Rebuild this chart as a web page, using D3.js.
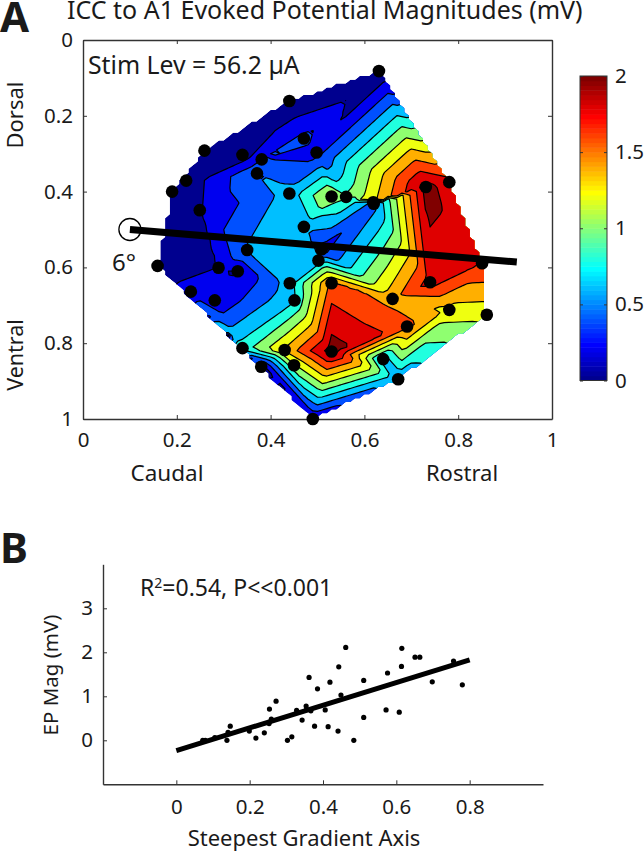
<!DOCTYPE html>
<html>
<head>
<meta charset="utf-8">
<script src="https://cdn.jsdelivr.net/npm/d3@7"></script>
<style>
  html, body { margin: 0; padding: 0; background: #fff; }
  svg { display: block; }
  text { font-family: "Noto Sans", sans-serif; fill: #1a1a1a; }
  .domain, .tick line { stroke: #333; }
</style>
</head>
<body>
<div id="chart"></div>
<script>
// Recording sites, panel A (normalised position and EP magnitude in mV)
const siteX = [.440,.259,.340,.381,.471,.498,.371,.220,.190,.440,.249,.471,.631,.781,.731,.530,.561,.620,.619,.159,.350,.289,.330,.230,.281,.509,.502,.441,.451,.340,.380,.430,.450,.490,.851,.530,.740,.660,.781,.861,.691,.530,.640,.672];
const siteY = [.161,.292,.303,.315,.260,.297,.352,.371,.400,.405,.449,.493,.082,.375,.388,.413,.414,.432,.428,.596,.554,.601,.610,.664,.687,.552,.582,.642,.687,.813,.862,.818,.858,1.00,.589,.642,.639,.683,.712,.725,.756,.822,.842,.895];
const siteMag = [0,0,.05,.40,.46,.32,.60,.06,0,.68,.18,.67,0,1.89,2.09,1.25,1.03,.52,1.36,0,.62,.205,.195,.32,.21,.31,.69,.70,.78,.89,.08,1.43,1.17,.21,1.80,1.67,1.89,1.53,1.33,1.26,1.68,2.11,.69,.64];

// Panel B scatter
const scatterX = [.072,.079,.105,.138,.141,.147,.199,.217,.24,.253,.259,.254,.272,.303,.315,.328,.343,.354,.355,.367,.362,.377,.385,.406,.414,.419,.441,.443,.449,.462,.484,.511,.511,.572,.576,.608,.614,.615,.651,.664,.698,.756,.78];
const scatterY = [0,0,.06,0,.18,.32,.21,.05,.17,.38,.48,.71,.89,0,.08,.68,.46,.78,.70,.67,1.43,.32,1.17,.69,.31,1.32,.21,1.67,1.03,2.11,0,1.36,.52,.69,1.53,.64,1.68,2.09,1.89,1.89,1.33,1.80,1.26];
const fitX = [0, .8];
const fitY = [-.235, 1.83];

// Steepest gradient axis drawn on panel A
const gradX = [.1, .925];
const gradY = [.5, .586];

const levels = [.2, .4, .6, .8, 1, 1.2, 1.4, 1.6, 1.8, 2];
const barTicks = [0, .5, 1, 1.5, 2];
const axisTicksA = [0, .2, .4, .6, .8, 1];
const axisTicksBx = [0, .2, .4, .6, .8];
const axisTicksBy = [0, 1, 2, 3];

const WIDTH = 644;
const HEIGHT = 852;
const GRID_N = 101;
const GRID_STEP = 0.01;
const TICK_FONT = 20.5;

const svg = d3.select("#chart").append("svg").attr("width", WIDTH).attr("height", HEIGHT);

const xA = d3.scaleLinear().domain([0, 1]).range([83, 552]);
const yA = d3.scaleLinear().domain([0, 1]).range([40, 419]);
const xB = d3.scaleLinear().domain([-.2, 1]).range([103, 543]);
const yB = d3.scaleLinear().domain([-1, 4]).range([784.3, 564.3]);

// MATLAB style jet, 64 entries
const jetScale = d3.scaleLinear()
    .domain([1, 8, 24, 40, 56, 64])
    .range(["#00008f", "#0000ff", "#00ffff", "#ffff00", "#ff0000", "#800000"]);
const jet = v => jetScale(Math.min(64, Math.floor(v / 2 * 64) + 1));

drawContours();
drawAxesA();
drawColorbar();
drawPanelB();

/**
 * Linear interpolation of the sites on a regular grid, like griddata
 */
function griddata() {
    const points = siteX.map((x, i) => [x, siteY[i]]);
    const delaunay = d3.Delaunay.from(points);
    const tri = delaunay.triangles;
    const grid = new Array(GRID_N * GRID_N).fill(NaN);

    for (let t = 0; t < tri.length; t += 3) {
        const [ia, ib, ic] = [tri[t], tri[t + 1], tri[t + 2]];
        const [ax, ay] = points[ia], [bx, by] = points[ib], [cx, cy] = points[ic];
        const det = (by - cy) * (ax - cx) + (cx - bx) * (ay - cy);
        if (det === 0) continue;
        const x0 = Math.floor(Math.min(ax, bx, cx) / GRID_STEP), x1 = Math.ceil(Math.max(ax, bx, cx) / GRID_STEP);
        const y0 = Math.floor(Math.min(ay, by, cy) / GRID_STEP), y1 = Math.ceil(Math.max(ay, by, cy) / GRID_STEP);
        for (let j = y0; j <= y1 && j < GRID_N; j++) {
            for (let i = x0; i <= x1 && i < GRID_N; i++) {
                const px = i * GRID_STEP, py = j * GRID_STEP;
                const l1 = ((by - cy) * (px - cx) + (cx - bx) * (py - cy)) / det;
                const l2 = ((cy - ay) * (px - cx) + (ax - cx) * (py - cy)) / det;
                const l3 = 1 - l1 - l2;
                if (l1 >= -1e-9 && l2 >= -1e-9 && l3 >= -1e-9) {
                    grid[j * GRID_N + i] = l1 * siteMag[ia] + l2 * siteMag[ib] + l3 * siteMag[ic];
                }
            }
        }
    }
    return grid;
}

/**
 * Filled contours of panel A
 */
function drawContours() {
    const grid = griddata();
    const inside = grid.map(v => isNaN(v) ? -1 : 1);

    // Spread values a few cells past the hull so the levels run up to the clip edge
    const wide = grid.slice();
    for (let pass = 0; pass < 3; pass++) {
        const prev = wide.slice();
        for (let j = 0; j < GRID_N; j++) {
            for (let i = 0; i < GRID_N; i++) {
                if (!isNaN(prev[j * GRID_N + i])) continue;
                const near = [];
                if (i > 0) near.push(prev[j * GRID_N + i - 1]);
                if (i < GRID_N - 1) near.push(prev[j * GRID_N + i + 1]);
                if (j > 0) near.push(prev[(j - 1) * GRID_N + i]);
                if (j < GRID_N - 1) near.push(prev[(j + 1) * GRID_N + i]);
                const m = d3.mean(near);
                if (m !== undefined) wide[j * GRID_N + i] = m;
            }
        }
    }
    const filled = wide.map(v => isNaN(v) ? -1 : v);

    const toScreen = d3.geoTransform({
        point(x, y) {
            this.stream.point(xA((x - .5) * GRID_STEP), yA((y - .5) * GRID_STEP));
        }
    });
    const path = d3.geoPath(toScreen);

    const hull = d3.contours().size([GRID_N, GRID_N]).smooth(false).contour(inside, 0);
    svg.append("clipPath").attr("id", "hull-clip").append("path").attr("d", path(hull));

    const g = svg.append("g").attr("clip-path", "url(#hull-clip)");
    g.append("path").attr("d", path(hull)).attr("fill", jet(0));

    const contours = d3.contours().size([GRID_N, GRID_N]).thresholds(levels)(filled);
    g.selectAll(".level")
        .data(contours)
        .enter()
        .append("path")
        .attr("class", "level")
        .attr("d", path)
        .attr("fill", d => jet(d.value))
        .attr("stroke", "#000")
        .attr("stroke-width", 1.2)
        .attr("stroke-linejoin", "round");
}

function styleAxis(sel) {
    sel.selectAll(".domain").attr("stroke-width", 1.4);
    sel.selectAll(".tick line").attr("stroke-width", 1);
    sel.selectAll("text").attr("font-size", TICK_FONT).attr("font-family", null).attr("fill", null);
}

function drawAxesA() {
    const tick = d => (d === 0 || d === 1) ? d3.format("d")(d) : d3.format(".1f")(d);

    const mk = (axis, tx, ty) => svg.append("g")
        .attr("transform", `translate(${tx},${ty})`)
        .call(axis)
        .call(styleAxis);

    mk(d3.axisBottom(xA).tickValues(axisTicksA).tickFormat(tick).tickSizeOuter(0).tickSizeInner(-4).tickPadding(13), 0, 419);
    mk(d3.axisLeft(yA).tickValues(axisTicksA).tickFormat(tick).tickSizeOuter(0).tickSizeInner(-4).tickPadding(10), 83, 0);
    mk(d3.axisTop(xA).tickValues(axisTicksA).tickFormat("").tickSizeOuter(0).tickSizeInner(-4), 0, 40);
    mk(d3.axisRight(yA).tickValues(axisTicksA).tickFormat("").tickSizeOuter(0).tickSizeInner(-4), 552, 0);

    // Sites and gradient axis
    svg.append("g").selectAll("circle")
        .data(siteX)
        .enter()
        .append("circle")
        .attr("cx", d => xA(d))
        .attr("cy", (d, i) => yA(siteY[i]))
        .attr("r", 6.3)
        .attr("fill", "#000");

    svg.append("circle")
        .attr("cx", xA(gradX[0])).attr("cy", yA(gradY[0])).attr("r", 11)
        .attr("fill", "#fff").attr("stroke", "#000").attr("stroke-width", 1.3);

    svg.append("line")
        .attr("x1", xA(gradX[0])).attr("y1", yA(gradY[0]))
        .attr("x2", xA(gradX[1])).attr("y2", yA(gradY[1]))
        .attr("stroke", "#000").attr("stroke-width", 7);

    label("A", 0, 32, 42, "start", 700);
    label("B", 0, 563, 42, "start", 700);
    label("ICC to A1 Evoked Potential Magnitudes (mV)", 67, 19, 25);
    label("Stim Lev = 56.2 \u00b5A", 88, 74, 24.8);
    label("6\u00b0", 112, 271, 24);
    label("Caudal", 167, 481, 22.5, "middle");
    label("Rostral", 462, 481, 22, "middle");
    label("Dorsal", 23, 115, 22, "middle", 400, -90);
    label("Ventral", 23, 355, 21.5, "middle", 400, -90);
}

function drawColorbar() {
    const yBar = d3.scaleLinear().domain([0, 2]).range([380.5, 76]);
    const cells = d3.range(1, 65);

    svg.append("g").selectAll("rect")
        .data(cells)
        .enter()
        .append("rect")
        .attr("x", 580)
        .attr("y", d => yBar(d / 32))
        .attr("width", 27)
        .attr("height", d => yBar((d - 1) / 32) - yBar(d / 32) + .5)
        .attr("fill", d => jetScale(d));

    svg.append("rect")
        .attr("x", 580).attr("y", 76).attr("width", 27).attr("height", 304.5)
        .attr("fill", "none").attr("stroke", "#333").attr("stroke-width", 1);

    const tick = d => d3.format("~g")(d);
    svg.append("g").attr("transform", "translate(607,0)")
        .call(d3.axisRight(yBar).tickValues(barTicks).tickFormat(tick).tickSizeOuter(0).tickSizeInner(-3).tickPadding(8))
        .call(styleAxis)
        .call(s => s.select(".domain").remove());
    svg.append("g").attr("transform", "translate(580,0)")
        .call(d3.axisLeft(yBar).tickValues(barTicks).tickFormat("").tickSizeOuter(0).tickSizeInner(-3))
        .call(s => s.select(".domain").remove());
}

function drawPanelB() {
    svg.append("g").attr("transform", "translate(0,784.3)")
        .call(d3.axisBottom(xB).tickValues(axisTicksBx).tickFormat(d => d === 0 ? "0" : d3.format(".1f")(d)).tickSizeOuter(0).tickSizeInner(-4).tickPadding(15))
        .call(styleAxis);
    svg.append("g").attr("transform", "translate(103,0)")
        .call(d3.axisLeft(yB).tickValues(axisTicksBy).tickFormat(d3.format("d")).tickSizeOuter(0).tickSizeInner(-4).tickPadding(10))
        .call(styleAxis);

    svg.append("g").selectAll("circle")
        .data(scatterX)
        .enter()
        .append("circle")
        .attr("cx", d => xB(d))
        .attr("cy", (d, i) => yB(scatterY[i]))
        .attr("r", 2.6)
        .attr("fill", "#000");

    svg.append("line")
        .attr("x1", xB(fitX[0])).attr("y1", yB(fitY[0]))
        .attr("x2", xB(fitX[1])).attr("y2", yB(fitY[1]))
        .attr("stroke", "#000").attr("stroke-width", 5);

    const r2 = label("R", 140, 596, 23);
    r2.append("tspan").attr("dy", -8).attr("font-size", 14).text("2");
    r2.append("tspan").attr("dy", 8).text("=0.54, P<<0.001");

    label("EP Mag (mV)", 58, 675, 20.5, "middle", 400, -90);
    label("Steepest Gradient Axis", 304, 846, 22, "middle");
}

function label(str, x, y, size, anchor = "start", weight = 400, rotate = 0) {
    return svg.append("text")
        .attr("transform", `translate(${x},${y}) rotate(${rotate})`)
        .attr("font-size", size)
        .attr("font-weight", weight)
        .attr("text-anchor", anchor)
        .text(str);
}
</script>
</body>
</html>
